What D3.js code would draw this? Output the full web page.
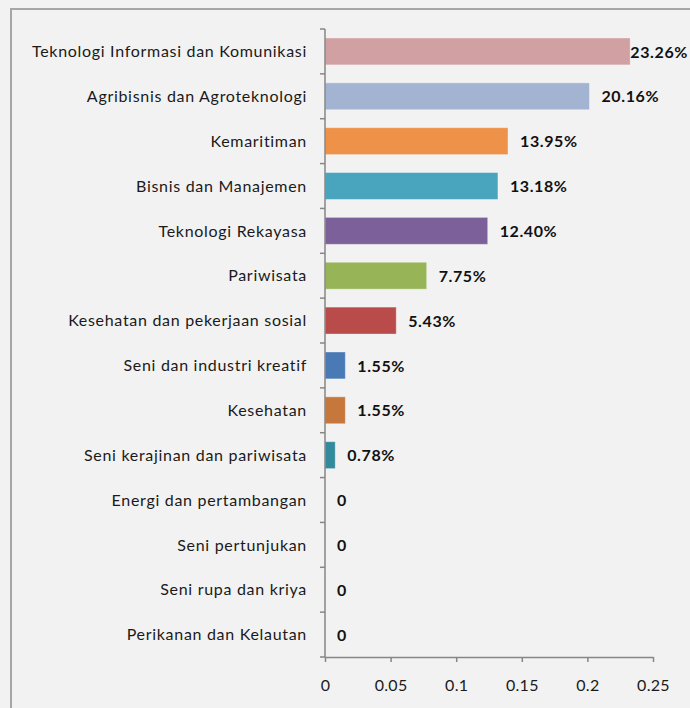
<!DOCTYPE html>
<html><head><meta charset="utf-8">
<script src="https://cdn.jsdelivr.net/npm/d3@7"></script>
<style>
html,body{margin:0;padding:0;background:#f2f2f2;}
svg{display:block;}
</style></head>
<body>
<svg id="c" width="690" height="708"></svg>
<script>
const categories = [
  "Teknologi Informasi dan Komunikasi",
  "Agribisnis dan Agroteknologi",
  "Kemaritiman",
  "Bisnis dan Manajemen",
  "Teknologi Rekayasa",
  "Pariwisata",
  "Kesehatan dan pekerjaan sosial",
  "Seni dan industri kreatif",
  "Kesehatan",
  "Seni kerajinan dan pariwisata",
  "Energi dan pertambangan",
  "Seni pertunjukan",
  "Seni rupa dan kriya",
  "Perikanan dan Kelautan"
];
const values = [0.2326, 0.2016, 0.1395, 0.1318, 0.1240, 0.0775, 0.0543, 0.0155, 0.0155, 0.0078, 0, 0, 0, 0];
const valueLabels = ["23.26%","20.16%","13.95%","13.18%","12.40%","7.75%","5.43%","1.55%","1.55%","0.78%","0","0","0","0"];
const barColors = ["#d0a0a2","#a3b4d2","#ed9248","#48a5bd","#7b6099","#97b556","#b94c4a","#4a7ab6","#c6773b","#338a9c","#888","#888","#888","#888"];
const xTicks = [0, 0.05, 0.1, 0.15, 0.2, 0.25];
const xTickLabels = ["0","0.05","0.1","0.15","0.2","0.25"];

const svg = d3.select("#c");
const font = "Lato, 'Open Sans', sans-serif";

// frame
svg.append("path").attr("d","M11,708 V9 H690").attr("fill","none")
  .attr("stroke","#a6a6a6").attr("stroke-width",2);

const x = d3.scaleLinear().domain([0,0.25]).range([325,653]);
const y = d3.scaleBand().domain(categories).range([29,657]).paddingInner(0.4).paddingOuter(0.2);

// bars
svg.append("g").selectAll("rect").data(categories).join("rect")
  .attr("x", x(0))
  .attr("y", d => y(d))
  .attr("width", (d,i) => x(values[i]) - x(0))
  .attr("height", y.bandwidth())
  .attr("fill", (d,i) => barColors[i])
  .attr("stroke", "rgba(255,255,255,0.35)")
  .attr("stroke-width", 1);

// y axis
const yAxis = svg.append("g");
yAxis.append("line").attr("x1",325).attr("x2",325).attr("y1",29).attr("y2",657)
  .attr("stroke","#868686").attr("stroke-width",1.5);
yAxis.selectAll("line.t").data(d3.range(categories.length+1)).join("line").attr("class","t")
  .attr("x1",320).attr("x2",325)
  .attr("y1", i => y.range()[0] + i*(y.range()[1]-y.range()[0])/categories.length)
  .attr("y2", i => y.range()[0] + i*(y.range()[1]-y.range()[0])/categories.length)
  .attr("stroke","#868686").attr("stroke-width",1.5);
yAxis.selectAll("text").data(categories).join("text")
  .attr("x", 307).attr("y", d => y(d) + y.bandwidth()/2)
  .attr("dy","0.36em").attr("text-anchor","end")
  .attr("font-family", font).attr("font-size", 16).attr("letter-spacing","0.7px").attr("fill","#1a1a1a")
  .text(d => d);

// x axis
const xAxis = d3.axisBottom(x).tickValues(xTicks).tickFormat((d,i)=>xTickLabels[i]).tickSize(5).tickSizeOuter(0);
const gx = svg.append("g").attr("transform","translate(0,657)").call(xAxis);
gx.select(".domain").attr("stroke","#868686").attr("stroke-width",1.5);
gx.selectAll(".tick line").attr("stroke","#868686").attr("stroke-width",1.5);
gx.selectAll(".tick text").attr("font-family",font).attr("font-size",16).attr("letter-spacing","0.3px")
  .attr("fill","#1a1a1a").attr("dy","1.65em");

// value labels
const vl = svg.append("g").selectAll("text").data(categories).join("text")
  .attr("y", d => y(d) + y.bandwidth()/2)
  .attr("dy","0.38em")
  .attr("font-family", font).attr("font-size", 16).attr("font-weight","bold").attr("letter-spacing","0.6px").attr("fill","#111")
  .text((d,i) => valueLabels[i]);
vl.each(function(d,i){
  const w = this.getComputedTextLength();
  const px = Math.min(x(values[i]) + 12, 688 - w);
  d3.select(this).attr("x", px);
});
</script>
</body></html>
